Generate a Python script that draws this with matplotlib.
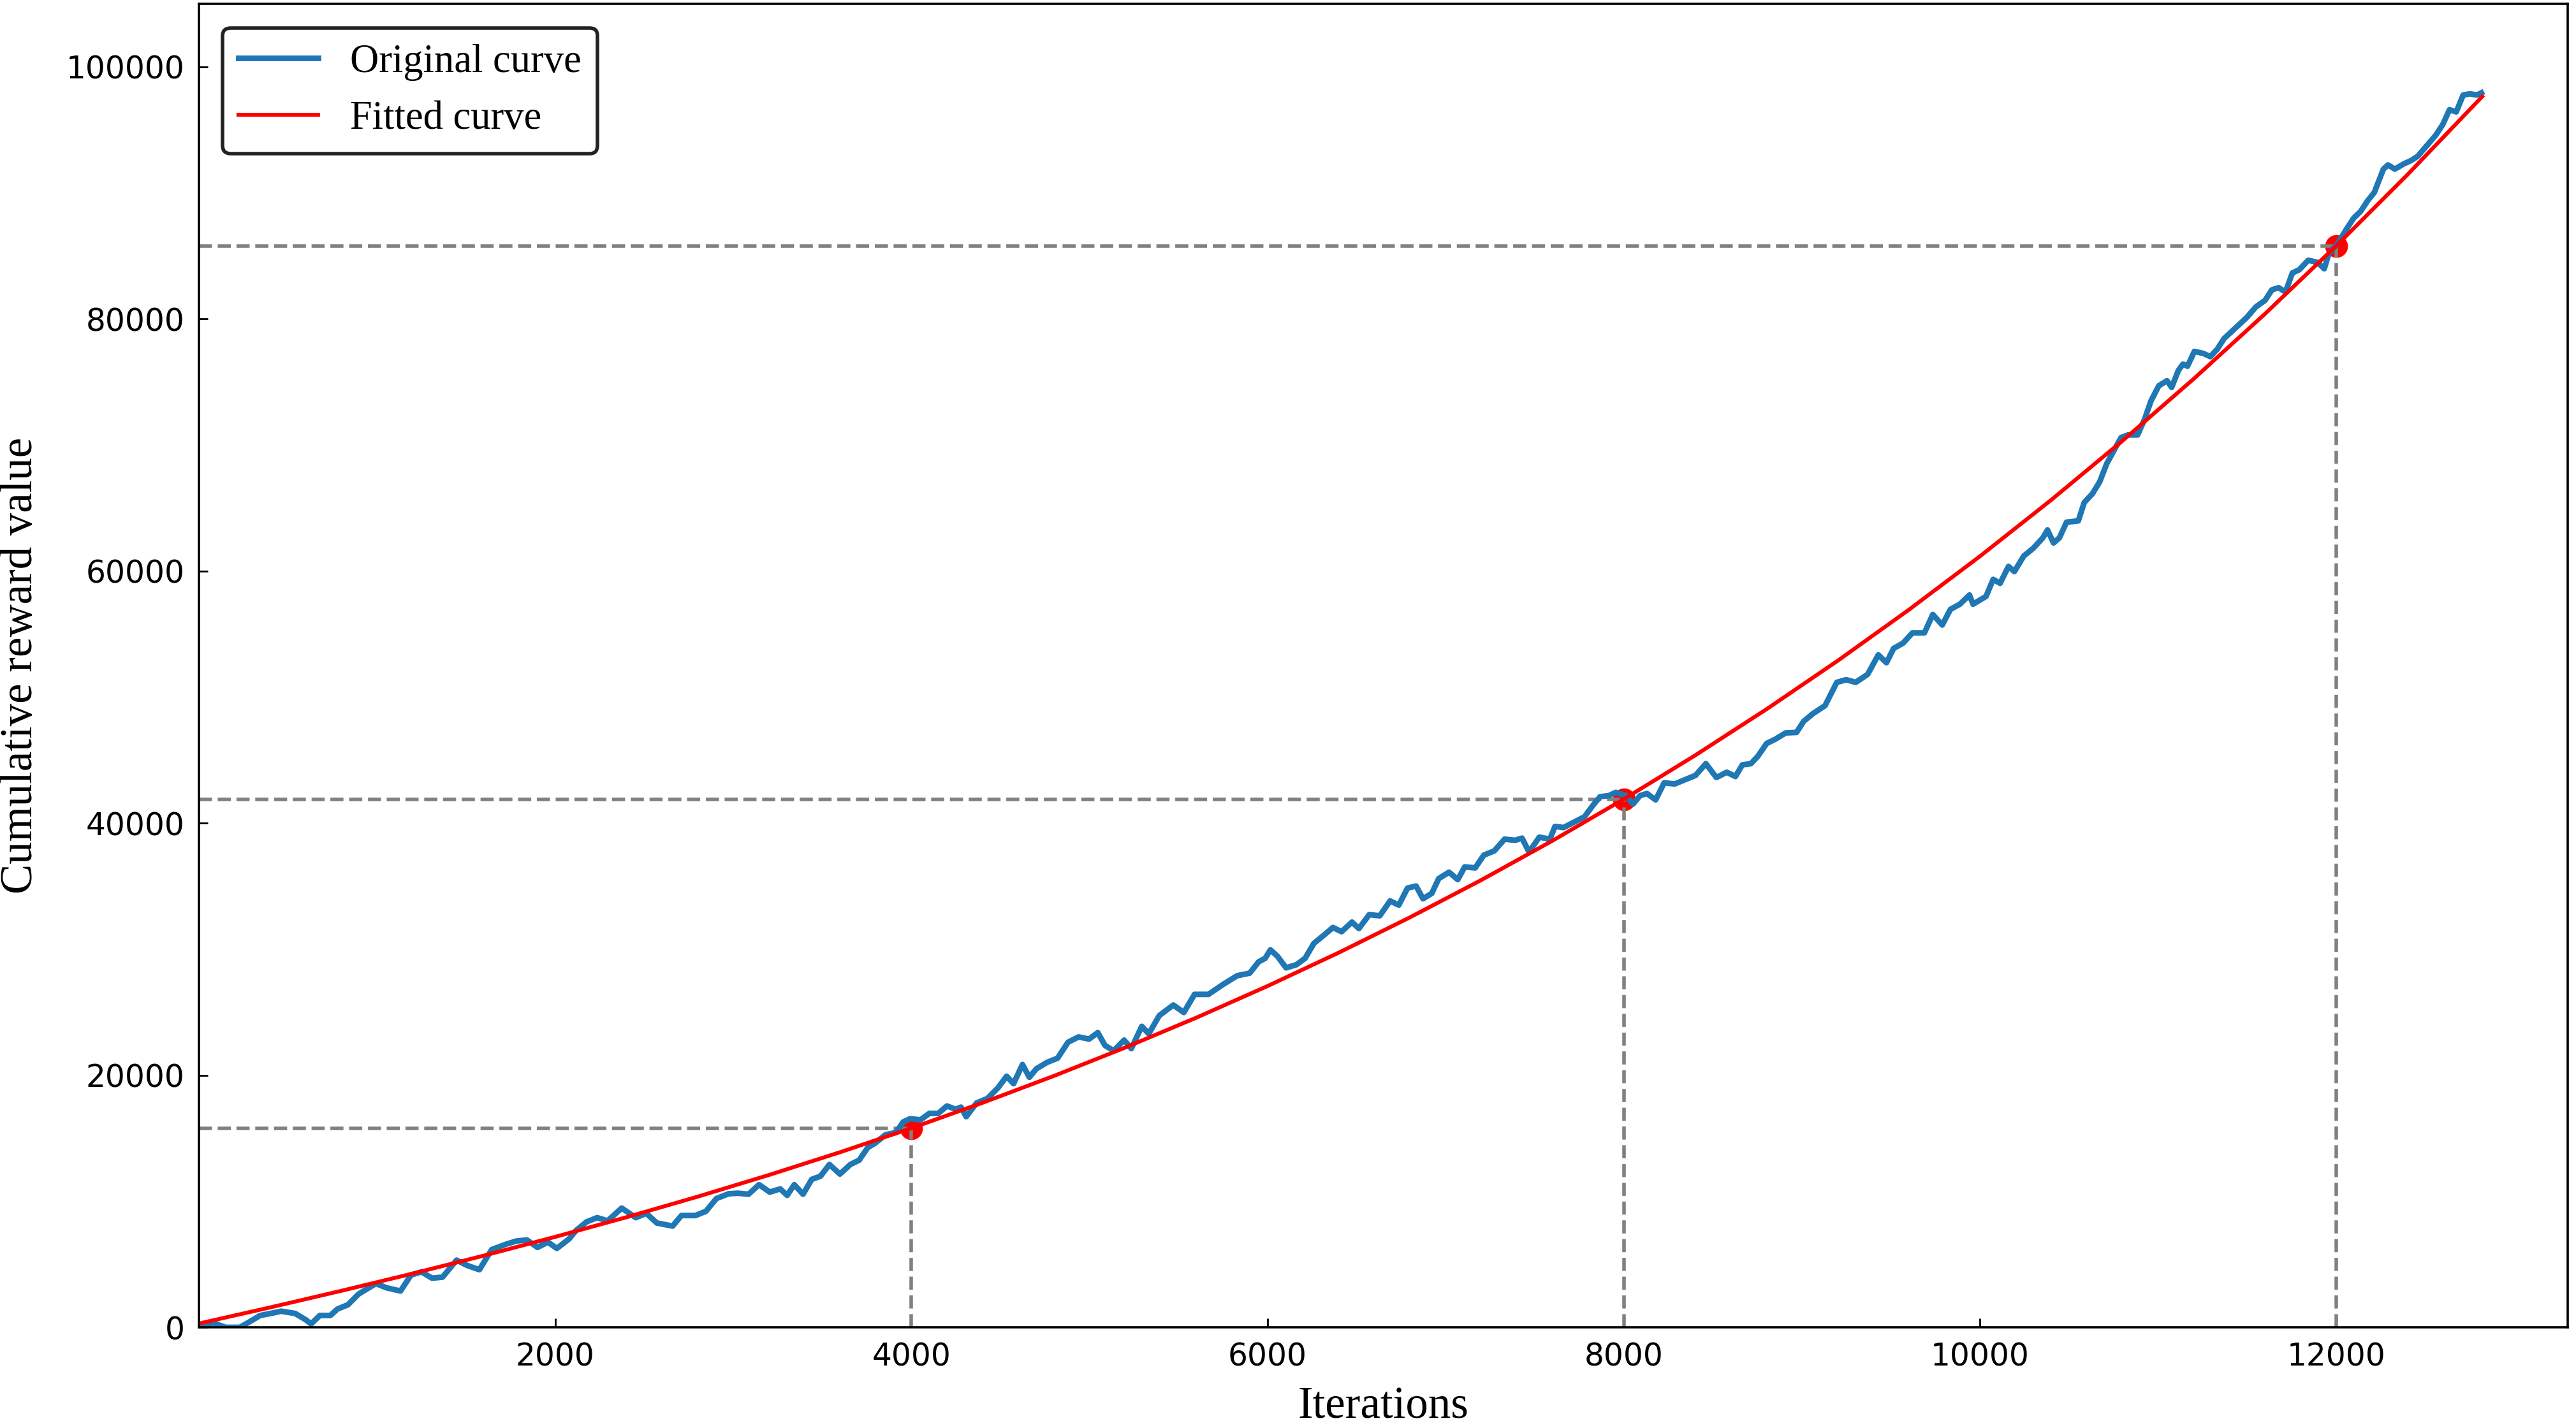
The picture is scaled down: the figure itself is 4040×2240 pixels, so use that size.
import matplotlib
matplotlib.use("Agg")
import matplotlib.pyplot as plt

# ---------------------------------------------------------------
# Data
# ---------------------------------------------------------------
# Original (noisy) cumulative reward curve
orig_iter = [
    0, 80, 150, 230, 285, 344, 403, 462, 541, 600, 630, 679, 738, 778, 837,
    896, 935, 994, 1053, 1132, 1191, 1250, 1309, 1368, 1447, 1506, 1575,
    1644, 1724, 1783, 1842, 1901, 1960, 2010, 2079, 2118, 2177, 2236, 2295,
    2374, 2453, 2512, 2571, 2660, 2709, 2788, 2847, 2906, 2975,
    3027, 3086, 3145, 3205, 3264, 3303, 3343, 3392, 3441, 3490, 3540, 3599,
    3658, 3707, 3756, 3796, 3855, 3914, 3954, 3993, 4052, 4101, 4151, 4200,
    4249, 4279, 4308, 4367, 4427, 4486, 4535, 4574, 4624, 4663, 4702, 4762,
    4821, 4880, 4939, 4998, 5047, 5087, 5136, 5195, 5235, 5294, 5333, 5392,
    5471, 5530, 5590, 5668, 5750, 5830, 5900, 5950,
    5987, 6016, 6055, 6104, 6162, 6211, 6260, 6318, 6367, 6416, 6474, 6513,
    6571, 6630, 6688, 6737, 6786, 6834, 6873, 6922, 6961, 7019, 7068, 7107,
    7166, 7214, 7273, 7331, 7390, 7429, 7468, 7526, 7585, 7614, 7662, 7721,
    7779, 7828, 7867, 7916, 7955, 8013, 8052, 8091, 8130, 8179, 8227, 8286,
    8344, 8403, 8461, 8520, 8578, 8627, 8666, 8714, 8753, 8802, 8851, 8909,
    8970, 9010, 9063, 9130, 9196, 9249, 9302, 9369, 9429, 9475, 9515, 9568,
    9621, 9688, 9735, 9788, 9834, 9887, 9941, 9961, 10034, 10074, 10113,
    10160, 10193, 10246, 10300, 10353, 10379, 10413, 10446, 10486, 10552,
    10585, 10632, 10672, 10712, 10752, 10792, 10831, 10885, 10924, 10960,
    11004, 11050, 11076, 11114, 11140, 11165, 11204, 11255, 11293, 11332,
    11370, 11421, 11460, 11498, 11549, 11600, 11639, 11677, 11715, 11754,
    11792, 11843, 11894, 11933, 11958, 12009, 12060, 12099, 12137, 12176,
    12214, 12265, 12291, 12329, 12380, 12419, 12457, 12508, 12559, 12598,
    12636, 12674, 12713, 12751, 12790, 12815,
]
orig_reward = [
    0, 350, 0, 0, 440, 940, 1100, 1280, 1100, 600, 270, 940, 940, 1450, 1790,
    2630, 2970, 3470, 3140, 2880, 4150, 4400, 3900, 3980, 5330, 4910, 4570,
    6170, 6590, 6850, 6930, 6340, 6760, 6260, 7020, 7690, 8370, 8700, 8450,
    9460, 8700, 9040, 8280, 8030, 8870, 8870, 9210, 10220, 10600,
    10640, 10560, 11320, 10730, 10980, 10470, 11320, 10560, 11740, 11990, 12920, 12160,
    12920, 13260, 14270, 14600, 15280, 15450, 16290, 16550, 16460, 16970, 16970, 17560,
    17300, 17470, 16710, 17810, 18150, 18990, 19920, 19330, 20850, 19840, 20510, 21020,
    21350, 22620, 23040, 22870, 23380, 22370, 21940, 22790, 22110, 23880, 23290, 24730,
    25570, 24980, 26415, 26415, 27200, 27900, 28100, 29000,
    29280, 29950, 29450, 28520, 28770, 29280, 30460, 31130, 31720, 31390, 32150, 31640,
    32740, 32650, 33830, 33500, 34850, 35010, 34000, 34430, 35600, 36110, 35520, 36530,
    36450, 37460, 37800, 38730, 38640, 38810, 37710, 38890, 38730, 39740, 39650, 40080,
    40500, 41430, 42100, 42180, 42440, 42180, 41510, 42180, 42350, 41850, 43200, 43110,
    43450, 43790, 44720, 43620, 44040, 43700, 44630, 44720, 45310, 46320, 46660, 47160,
    47200, 48080, 48700, 49320, 51170, 51380, 51170, 51800, 53350, 52730, 53860, 54280,
    55100, 55100, 56550, 55720, 56960, 57370, 58100, 57370, 57990, 59340, 59030,
    60370, 59960, 61200, 61820, 62640, 63260, 62230, 62640, 63880, 63980,
    65430, 66150, 67080, 68530, 69560, 70590, 70800, 70800, 72040, 73500,
    74700, 75100, 74570, 75920, 76420, 76250, 77430, 77260, 77010, 77600,
    78440, 79110, 79620, 80120, 80960, 81470, 82310, 82480, 82140, 83650,
    83900, 84660, 84490, 83990, 85160, 86010, 87180, 88020, 88530, 89370,
    90040, 91890, 92220, 91890, 92310, 92560, 92900, 93740, 94580, 95420,
    96600, 96430, 97770, 97860, 97770, 97940,
]

# Fitted curve, sampled every 400 iterations
fit_iter = [0, 400, 800, 1200, 1600, 2000, 2400, 2800, 3200, 3600, 4000,
            4400, 4800, 5200, 5600, 6000, 6400, 6800, 7200, 7600, 8000,
            8400, 8800, 9200, 9600, 10000, 10400, 10800, 11200, 11600,
            12000, 12400, 12820]
fit_reward = [300, 1578, 2898, 4265, 5689, 7175, 8731, 10365, 12082, 13892,
              15800, 17814, 19942, 22189, 24565, 27075, 29727, 32529, 35486,
              38608, 41900, 45370, 49026, 52873, 56921, 61175, 65643, 70333,
              75250, 80404, 85800, 91446, 97650]

# Marked points on the fitted curve
mark_iter = [4000, 8000, 12000]
mark_reward = [15800, 41900, 85800]

# ---------------------------------------------------------------
# Figure
# ---------------------------------------------------------------
serif = "Liberation Serif"

fig = plt.figure(figsize=(20.2, 11.2), dpi=200)
ax = fig.add_subplot(111)
fig.subplots_adjust(left=0.0772, right=0.9968, bottom=0.0705, top=0.9973)

ax.scatter(mark_iter, mark_reward, s=140, color="red", zorder=1)

for xi, yi in zip(mark_iter, mark_reward):
    ax.plot([0, xi], [yi, yi], linestyle="--", color="gray", linewidth=2)
    ax.plot([xi, xi], [0, yi], linestyle="--", color="gray", linewidth=2)

ax.plot(orig_iter, orig_reward, color="#1f77b4", linewidth=3.2, label="Original curve")
ax.plot(fit_iter, fit_reward, color="red", linewidth=2.2, label="Fitted curve")

ax.set_xlim(0, 13300)
ax.set_ylim(0, 105000)
ax.set_xticks([2000, 4000, 6000, 8000, 10000, 12000])
ax.set_yticks([0, 20000, 40000, 60000, 80000, 100000])

ax.tick_params(direction="in", length=5, width=1, labelsize=17.5, pad=8)
for sp in ax.spines.values():
    sp.set_linewidth(1.3)

ax.set_xlabel("Iterations", fontsize=25.5, family=serif, labelpad=8)
ax.set_ylabel("Cumulative reward value", fontsize=25.5, family=serif, labelpad=14)

leg = ax.legend(loc="upper left", prop={"family": serif, "size": 22.5},
                framealpha=1, fancybox=True, borderaxespad=0.6)
leg.get_frame().set_edgecolor("#222222")
leg.get_frame().set_linewidth(2)

fig.savefig("out.png", dpi=200)
